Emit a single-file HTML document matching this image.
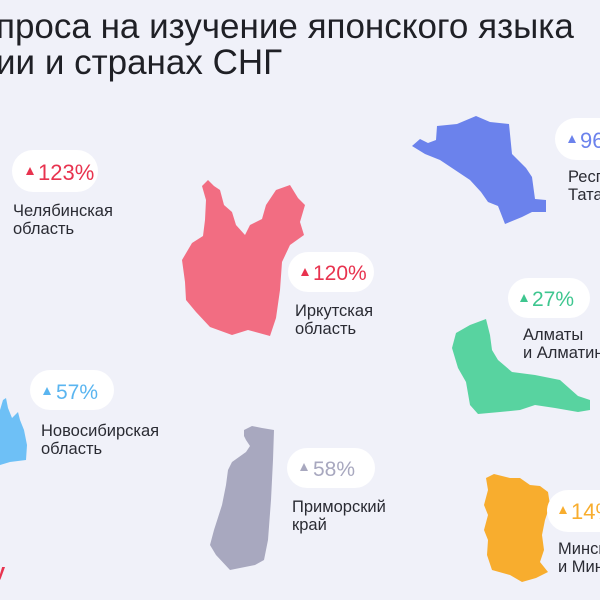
<!DOCTYPE html>
<html><head><meta charset="utf-8"><style>
html,body{margin:0;padding:0;background:#f0f1f9;}
svg{display:block;}
text{font-family:"Liberation Sans",sans-serif;}
</style></head><body>
<svg width="600" height="600" viewBox="0 0 600 600" xmlns="http://www.w3.org/2000/svg">
<rect width="600" height="600" fill="#f0f1f9"/>
<text x="-4" y="38" font-size="35" fill="#1f2026">проса на изучение японского языка</text>
<text x="-4" y="74" font-size="35" fill="#1f2026">ии и странах СНГ</text>

<polygon fill="#6b82ec" points="412,146 420,139 428,143 436,140 437,126 457,124 476,116 490,122 509,124 512,154 526,168 532,177 535,199 546,200 546,212 532,212 522,217 505,224 498,206 488,202 481,192 470,180 455,170 440,160 425,154"/>
<polygon fill="#f26d82" points="202,186 208,180 214,186 220,190 224,205 232,212 236,225 245,235 250,225 262,219 266,205 276,190 290,185 298,198 305,205 300,222 304,235 290,245 282,262 280,290 276,318 270,336 248,330 232,335 210,327 196,312 186,300 185,282 182,260 192,243 203,236 205,220 206,200"/>
<polygon fill="#58d3a0" points="456,333 470,325 486,319 490,335 492,350 498,360 512,372 535,375 560,380 578,396 590,400 590,410 578,412 555,408 535,405 520,410 500,412 478,414 470,405 466,382 458,368 452,348"/>
<polygon fill="#6ec0f6" points="0,410 3,400 6,398 8,408 12,418 18,412 20,420 24,430 27,445 26,460 10,462 0,465"/>
<polygon fill="#a8a8bf" points="244,430 252,426 262,428 274,430 273,460 271,500 268,540 264,560 255,565 240,568 230,570 216,555 210,545 214,530 222,505 226,485 228,470 232,462 246,452 250,446 246,440 244,436"/>
<polygon fill="#f8ad2e" points="486,478 494,474 510,478 520,478 530,485 540,486 548,492 550,505 545,520 542,535 544,550 540,562 548,572 536,578 522,582 510,575 492,570 487,555 488,540 484,530 488,515 484,505 488,490"/>

<g>
<rect x="12" y="150" width="86" height="42" rx="21" fill="#fff"/>
<path d="M26 175 L30 167 L34 175Z" fill="#e8334f"/>
<text x="38" y="180" font-size="22" fill="#e8334f">123%</text>
<text x="13" y="216" font-size="16.5" fill="#2a2b33">Челябинская</text>
<text x="13" y="234" font-size="16.5" fill="#2a2b33">область</text>

<rect x="288" y="252" width="86" height="40" rx="20" fill="#fff"/>
<path d="M301 276 L305 268 L309 276Z" fill="#e8334f"/>
<text x="313" y="280" font-size="21" fill="#e8334f">120%</text>
<text x="295" y="316" font-size="16.5" fill="#2a2b33">Иркутская</text>
<text x="295" y="334" font-size="16.5" fill="#2a2b33">область</text>

<rect x="555" y="118" width="70" height="42" rx="21" fill="#fff"/>
<path d="M568 143 L572 135 L576 143Z" fill="#6b82ec"/>
<text x="580" y="148" font-size="22" fill="#6b82ec">96%</text>
<text x="568" y="182" font-size="16.5" fill="#2a2b33">Республика</text>
<text x="568" y="200" font-size="16.5" fill="#2a2b33">Татарстан</text>

<rect x="508" y="278" width="82" height="40" rx="20" fill="#fff"/>
<path d="M520 302 L524 294 L528 302Z" fill="#3ec68f"/>
<text x="532" y="306" font-size="21" fill="#3ec68f">27%</text>
<text x="523" y="340" font-size="16.5" fill="#2a2b33">Алматы</text>
<text x="523" y="358" font-size="16.5" fill="#2a2b33">и Алматинская</text>

<rect x="30" y="370" width="84" height="40" rx="20" fill="#fff"/>
<path d="M43 395 L47 387 L51 395Z" fill="#5ab5f0"/>
<text x="56" y="399" font-size="21" fill="#5ab5f0">57%</text>
<text x="41" y="436" font-size="16.5" fill="#2a2b33">Новосибирская</text>
<text x="41" y="454" font-size="16.5" fill="#2a2b33">область</text>

<rect x="287" y="448" width="88" height="40" rx="20" fill="#fff"/>
<path d="M300 471 L304 463 L308 471Z" fill="#a8a8bf"/>
<text x="313" y="476" font-size="21" fill="#a8a8bf">58%</text>
<text x="292" y="512" font-size="16.5" fill="#2a2b33">Приморский</text>
<text x="292" y="530" font-size="16.5" fill="#2a2b33">край</text>

<rect x="547" y="490" width="80" height="42" rx="21" fill="#fff"/>
<path d="M559 514 L563 506 L567 514Z" fill="#f8ad2e"/>
<text x="571" y="519" font-size="22" fill="#f8ad2e">14%</text>
<text x="558" y="554" font-size="16.5" fill="#2a2b33">Минск</text>
<text x="558" y="572" font-size="16.5" fill="#2a2b33">и Минская</text>

<text x="-6" y="578" font-size="20" font-weight="bold" fill="#e8334f">y</text>
</g>
</svg>
</body></html>
